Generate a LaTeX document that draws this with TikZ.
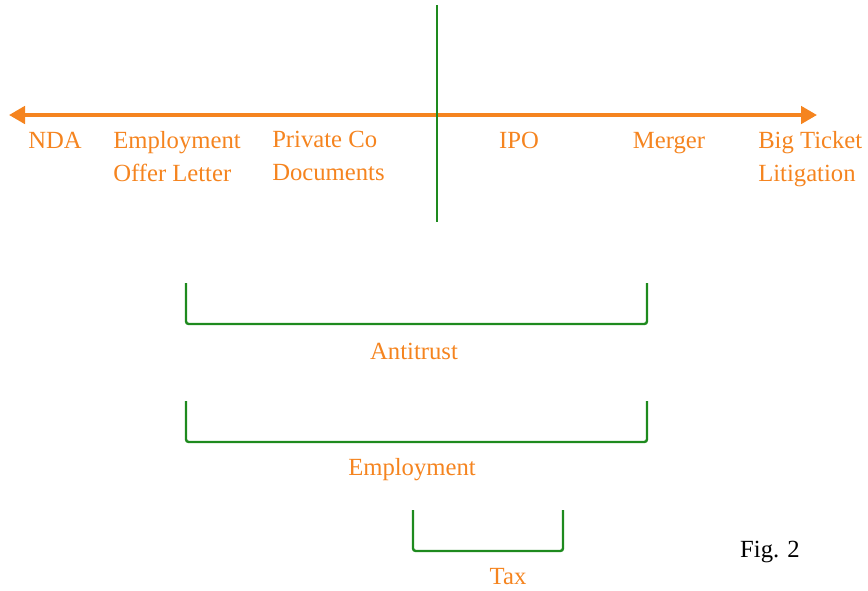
\documentclass[tikz,border=0pt]{standalone}
\usepackage{fontspec}
\setmainfont{Liberation Serif}
\usetikzlibrary{arrows.meta, positioning}
\definecolor{axisorange}{HTML}{F5841F}
\definecolor{bracegreen}{HTML}{1E8A1E}
\tikzset{
	lbl/.style={text=axisorange, font=\fontsize{18.5}{24.5}\selectfont, inner sep=0pt},
	lbll/.style={lbl, align=left, anchor=north west},
	brace/.style={draw=bracegreen, line width=1.8pt, rounded corners=2pt}
}

\begin{document}
\begin{tikzpicture}[x=0.75pt, y=-0.75pt]
	\useasboundingbox (0,0) rectangle (868,590);

	% axe
	\coordinate (left)	at (9, 115);
	\coordinate (right)	at (817, 115);
	\coordinate (top)	at (437, 5);
	\coordinate (bottom)	at (437, 222);
	\draw[axisorange, line width=2.8pt, {Triangle[length=12pt, width=13pt]}-{Triangle[length=12pt, width=13pt]}] (left) to (right);
	\draw[bracegreen, line width=1.8pt] (top) to (bottom);

	% etiquettes
	\node[lbl] (nda)	at (55, 140)	{NDA};
	\node[lbll] (offer)	at (113, 131)	{Employment\\Offer Letter};
	\node[lbll] (priv)	at (272, 131)	{Private Co\\Documents};
	\node[lbl] (ipo)	at (519, 140)	{IPO};
	\node[lbl] (merger)	at (669, 143)	{Merger};
	\node[lbll] (big)	at (758, 131)	{Big Ticket\\Litigation};

	% crochets
	\draw[brace] (186, 283) |- (647, 324) -- (647, 283);
	\node[lbl] (anti)	at (414, 351)	{Antitrust};

	\draw[brace] (186, 401) |- (647, 442) -- (647, 401);
	\node[lbl] (empl)	at (412, 470)	{Employment};

	\draw[brace] (413, 510) |- (563, 551) -- (563, 510);
	\node[lbl] (tax)	at (508, 577)	{Tax};

	\node[lbl, text=black] (fig)	at (770, 552)	{Fig. 2};
\end{tikzpicture}
\end{document}
